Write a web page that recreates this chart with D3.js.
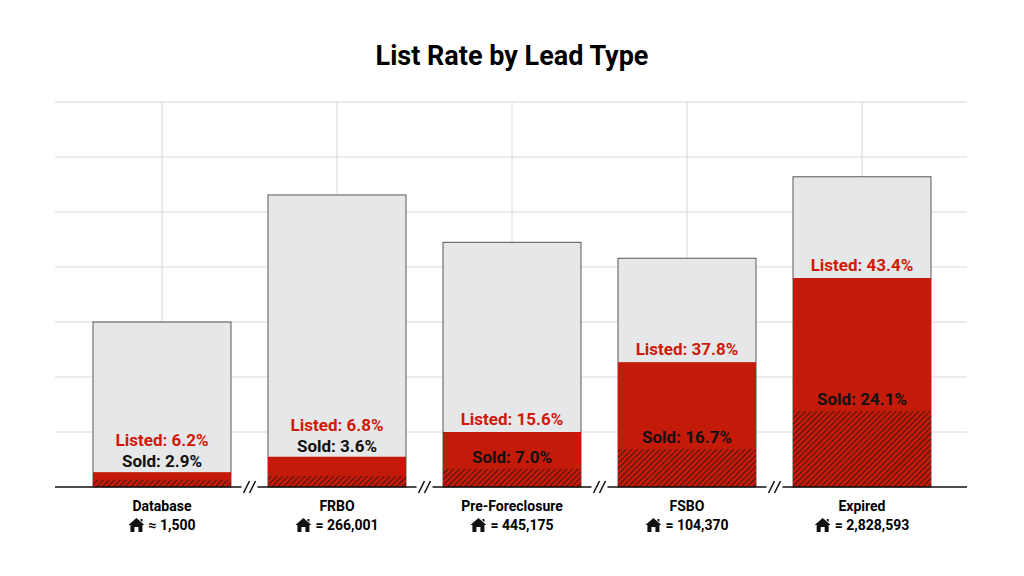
<!DOCTYPE html>
<html><head><meta charset="utf-8">
<script src="https://cdn.jsdelivr.net/npm/d3@7"></script>
<style>body{margin:0;background:#fff}svg{font-family:Roboto,sans-serif}</style>
</head><body><svg width="1024" height="576"></svg>
<script>
// values in grid units (each panel has its own broken scale)
const categories = ['Database', 'FRBO', 'Pre-Foreclosure', 'FSBO', 'Expired'];
const counts = ['≈ 1,500', '= 266,001', '= 445,175', '= 104,370', '= 2,828,593'];
const totalH = [3.0, 5.31, 4.45, 4.16, 5.64];
const listedH = [0.27, 0.55, 1.0, 2.27, 3.8];
const soldH = [0.13, 0.2, 0.33, 0.69, 1.38];
const listedPct = ['6.2%', '6.8%', '15.6%', '37.8%', '43.4%'];
const soldPct = ['2.9%', '3.6%', '7.0%', '16.7%', '24.1%'];

const svg = d3.select('svg');
const x = d3.scaleBand().domain(categories).range([74.5, 949.5]).paddingInner(0.2114).paddingOuter(0.1057);
const y = d3.scaleLinear().domain([0, 7]).range([487, 102]);

const defs = svg.append('defs');
const pat = defs.append('pattern').attr('id', 'hatch').attr('patternUnits', 'userSpaceOnUse')
  .attr('width', 4).attr('height', 4).attr('patternTransform', 'rotate(45)');
pat.append('rect').attr('width', 4).attr('height', 4).attr('fill', '#c41a0a');
pat.append('line').attr('x1', 0).attr('y1', 0).attr('x2', 0).attr('y2', 4).attr('stroke', '#111').attr('stroke-width', 1.4);

svg.append('text').attr('x', 512).attr('y', 65).attr('text-anchor', 'middle')
  .attr('font-size', 27).attr('font-weight', 700).text('List Rate by Lead Type');

svg.append('g').selectAll('line').data(d3.range(1, 8)).join('line')
  .attr('x1', 55).attr('x2', 967).attr('y1', y).attr('y2', y).attr('stroke', '#d8d8d8');
svg.append('g').selectAll('line').data(categories).join('line')
  .attr('x1', (d) => x(d) + x.bandwidth() / 2).attr('x2', (d) => x(d) + x.bandwidth() / 2)
  .attr('y1', 102).attr('y2', 487).attr('stroke', '#d8d8d8');

const g = svg.append('g').selectAll('g').data(categories).join('g');
g.append('rect').attr('x', (d) => x(d)).attr('width', x.bandwidth())
  .attr('y', (d, i) => y(totalH[i])).attr('height', (d, i) => y(0) - y(totalH[i]))
  .attr('fill', '#e6e7e8').attr('stroke', '#333').attr('stroke-width', 0.8);
g.append('rect').attr('x', (d) => x(d)).attr('width', x.bandwidth())
  .attr('y', (d, i) => y(listedH[i])).attr('height', (d, i) => y(0) - y(listedH[i]))
  .attr('fill', '#c41a0a');
g.append('rect').attr('x', (d) => x(d)).attr('width', x.bandwidth())
  .attr('y', (d, i) => y(soldH[i])).attr('height', (d, i) => y(0) - y(soldH[i]))
  .attr('fill', 'url(#hatch)');

const cx = (d) => x(d) + x.bandwidth() / 2;
g.append('text').attr('x', cx).attr('text-anchor', 'middle').attr('font-size', 17).attr('font-weight', 700)
  .attr('fill', '#d0190a')
  .attr('y', (d, i) => i < 2 ? y(listedH[i]) - 26 : y(listedH[i]) - 7)
  .text((d, i) => 'Listed: ' + listedPct[i]);
g.append('text').attr('x', cx).attr('text-anchor', 'middle').attr('font-size', 17).attr('font-weight', 700)
  .attr('fill', '#111')
  .attr('y', (d, i) => i < 2 ? y(listedH[i]) - 5 : y(soldH[i]) - 6)
  .text((d, i) => 'Sold: ' + soldPct[i]);

svg.append('line').attr('x1', 55).attr('x2', 967).attr('y1', 487).attr('y2', 487).attr('stroke', '#111').attr('stroke-width', 1.5);
// axis break marks between panels
svg.append('g').selectAll('g').data(categories.slice(1)).join('g')
  .attr('transform', (d) => `translate(${x(d) - x.step() * 0.1057},487)`)
  .each(function () {
    const s = d3.select(this);
    s.append('rect').attr('x', -8).attr('y', -3).attr('width', 16).attr('height', 6).attr('fill', '#fff');
    [-3, 3].forEach((o) => s.append('line').attr('x1', o - 3).attr('y1', 6).attr('x2', o + 3).attr('y2', -6)
      .attr('stroke', '#111').attr('stroke-width', 1.5));
  });

g.append('text').attr('x', cx).attr('y', 511).attr('text-anchor', 'middle').attr('font-size', 14)
  .attr('font-weight', 700).text((d) => d);
const lab = g.append('g').attr('transform', (d) => `translate(${cx(d)},530)`);
lab.append('text').attr('text-anchor', 'middle').attr('font-size', 14).attr('font-weight', 700)
  .attr('x', 10).text((d, i) => counts[i])
  .each(function () {
    const w = this.getComputedTextLength();
    const p = d3.select(this.parentNode);
    const hx = 10 - w / 2 - 20;
    p.append('path').attr('transform', `translate(${hx},-12)`)
      .attr('d', 'M8,0 L16,7 L14,7 L14,14 L10,14 L10,9 L6,9 L6,14 L2,14 L2,7 L0,7 Z M12,1 L14,1 L14,4 L12,2.5 Z')
      .attr('fill', '#111');
  });
</script></body></html>
